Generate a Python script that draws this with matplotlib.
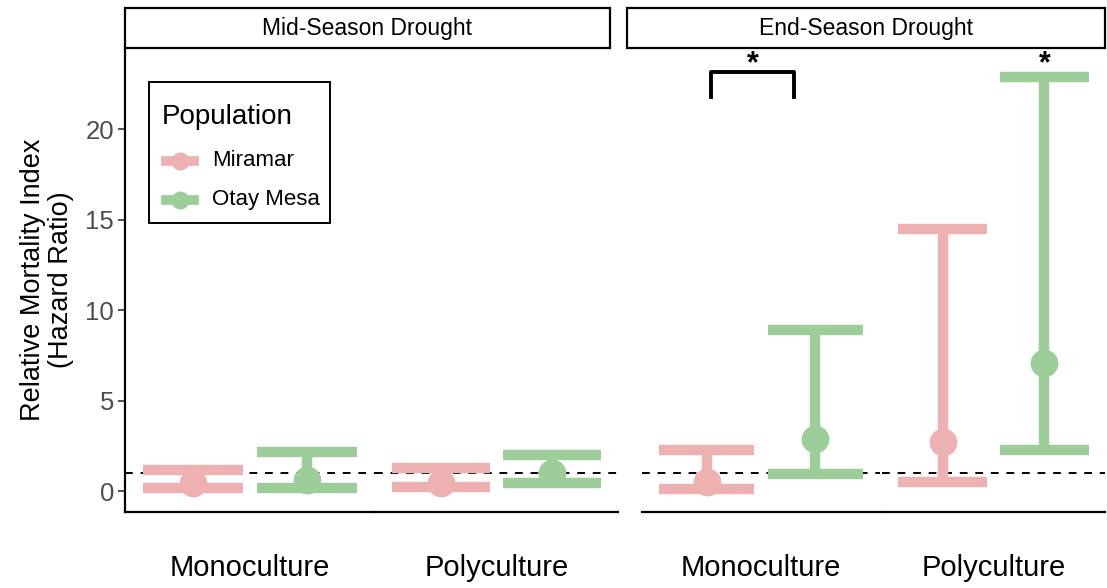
import matplotlib
matplotlib.use("Agg")
import matplotlib.pyplot as plt
from matplotlib.lines import Line2D
from matplotlib.patches import Rectangle

plt.rcParams['font.family'] = ['Liberation Sans', 'DejaVu Sans']

# ---- data ----
droughts = ["Mid-Season Drought", "End-Season Drought"]
cultures = ["Monoculture", "Polyculture"]
populations = ["Miramar", "Otay Mesa"]
colors = ["#EDB1B1", "#9DCE99"]

# estimates [drought][culture][population]
hr_est = [[[0.45, 0.6], [0.45, 1.0]],
          [[0.5, 2.85], [2.7, 7.1]]]
hr_lo = [[[0.17, 0.17], [0.22, 0.44]],
         [[0.12, 0.92], [0.5, 2.27]]]
hr_hi = [[[1.17, 2.15], [1.27, 2.0]],
         [[2.27, 8.9], [14.5, 22.9]]]
yticks = [0, 5, 10, 15, 20]

W, H = 1107, 588
fig = plt.figure(figsize=(W / 100, H / 100), dpi=100)

def fx(px):
    return px / W

def fy(py):
    return 1 - py / H

bottom_px, top_px = 512, 48
panels_px = [[(125, 375), (375, 618)], [(642, 880), (882, 1105)]]
strips_px = [(125, 610), (627, 1105)]
ylim = (-1.16, 24.5)
dodge = 0.228

axes = []
for d in range(2):
    for c in range(2):
        x0, x1 = panels_px[d][c]
        ax = fig.add_axes([fx(x0), fy(bottom_px), fx(x1 - x0), fy(top_px) - fy(bottom_px)])
        ax.set_xlim(0.5, 1.5)
        ax.set_ylim(*ylim)
        for s in ["top", "right"]:
            ax.spines[s].set_visible(False)
        ax.spines["bottom"].set_linewidth(1.6)
        ax.set_xticks([])
        if d == 0 and c == 0:
            ax.spines["left"].set_linewidth(1.6)
            ax.set_yticks(yticks)
            ax.set_yticklabels([str(t) for t in yticks], fontsize=18.5, color="#4D4D4D")
            ax.tick_params(axis="y", length=5, width=1.2, color="#333333", pad=3)
            ax.set_ylabel("Relative Mortality Index\n(Hazard Ratio)", fontsize=19.5,
                          labelpad=8, linespacing=1.1)
        else:
            ax.spines["left"].set_visible(False)
            ax.set_yticks([])
        ax.axhline(1.0, color="black", linestyle=(0, (4, 4)), linewidth=1.4, zorder=1)
        for p in range(2):
            xp = 1 + (p - 0.5) * 2 * dodge
            ax.vlines(xp, hr_lo[d][c][p], hr_hi[d][c][p], color=colors[p], linewidth=7.5, zorder=2)
            for yv in (hr_lo[d][c][p], hr_hi[d][c][p]):
                ax.hlines(yv, xp - 0.2, xp + 0.2, color=colors[p], linewidth=7.5, zorder=2)
            ax.plot([xp], [hr_est[d][c][p]], "o", color=colors[p], markersize=20,
                    markeredgewidth=0, zorder=3)
        ax.text(0.5, -0.12, cultures[c], transform=ax.transAxes, ha="center", va="center",
                fontsize=21)
        ax.patch.set_alpha(0)
        axes.append(ax)

# strips
for d in range(2):
    x0, x1 = strips_px[d]
    fig.patches.append(Rectangle((fx(x0), fy(48)), fx(x1 - x0), fy(8) - fy(48),
                                 transform=fig.transFigure, facecolor="white",
                                 edgecolor="black", linewidth=1.6))
    fig.text(fx((x0 + x1) / 2), fy(28), droughts[d], ha="center", va="center", fontsize=16.5)

# significance annotations
ax3 = axes[2]
bx0, bx1 = 1 - dodge + 0.02, 1 + dodge - 0.09
ax3.plot([bx0, bx0, bx1, bx1], [21.8, 23.2, 23.2, 21.8], color="black", linewidth=2.8,
         solid_joinstyle="round", clip_on=False)
ax3.text((bx0 + bx1) / 2, 23.6, "*", ha="center", va="center", fontsize=22, fontweight="bold")
ax4 = axes[3]
ax4.text(1 + dodge, 23.6, "*", ha="center", va="center", fontsize=22, fontweight="bold")

# legend (drawn manually in figure pixels)
fig.patches.append(Rectangle((fx(149), fy(223)), fx(330 - 149), fy(82) - fy(223),
                             transform=fig.transFigure, facecolor="white",
                             edgecolor="black", linewidth=1.4, zorder=5))
fig.text(fx(162), fy(117), "Population", ha="left", va="center", fontsize=20, zorder=6)
for p, ypx in zip(range(2), (161, 200)):
    fig.add_artist(Line2D([fx(166), fx(194)], [fy(ypx), fy(ypx)], transform=fig.transFigure,
                          color=colors[p], linewidth=7, zorder=6))
    fig.add_artist(Line2D([fx(180)], [fy(ypx)], transform=fig.transFigure, marker="o",
                          markersize=13, color=colors[p], markeredgewidth=0, zorder=7))
    fig.text(fx(212), fy(ypx), populations[p], ha="left", va="center", fontsize=16, zorder=6)

fig.savefig("out.png", dpi=100)
